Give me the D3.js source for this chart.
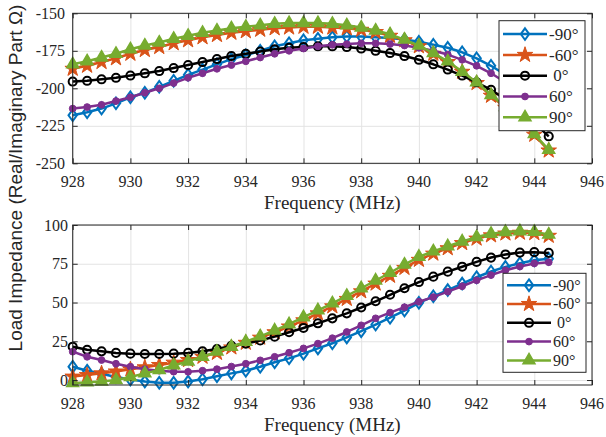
<!DOCTYPE html>
<html>
<head>
<meta charset="utf-8">
<script src="https://cdn.jsdelivr.net/npm/d3@7"></script>
<style>
  body { margin: 0; background: #fff; }
  svg { display: block; }
</style>
</head>
<body>
<div id="chart"></div>
<script>
// Frequency points (MHz), shared by both panels
const freq = [928, 928.5, 929, 929.5, 930, 930.5, 931, 931.5, 932, 932.5, 933, 933.5,
  934, 934.5, 935, 935.5, 936, 936.5, 937, 937.5, 938, 938.5, 939, 939.5,
  940, 940.5, 941, 941.5, 942, 942.5, 943, 943.5, 944, 944.5];

const angles = ['-90°', '-60°', ' 0°', '60°', '90°'];

const xTicks = [928, 930, 932, 934, 936, 938, 940, 942, 944, 946];
const upperTicks = [-250, -225, -200, -175, -150];
const lowerTicks = [0, 25, 50, 75, 100];

// Upper panel (negative part of the impedance)
const upperM90 = [-218, -216, -213.5, -210, -206, -203, -199, -195, -191, -187.5, -184, -180.5,
  -178, -175, -172, -170, -168, -167, -166, -165.5, -165.5, -166, -166.5, -167.5,
  -169, -171, -173, -176, -180, -185, -191, -197, -204, -212];
const upperM60 = [-187, -185, -182.5, -180, -177, -174.5, -172.5, -170, -168, -166, -164.5, -163,
  -162, -161, -160, -159.5, -159, -159, -159.5, -160, -161, -162.5, -165, -168,
  -172, -177, -182.5, -189, -196.5, -205, -213, -221.5, -231, -241.5];
const upper0 = [-195.5, -195, -194, -193, -191.5, -190, -188.5, -186.5, -184.5, -182.5, -180.5, -178.5,
  -177, -175.5, -174, -173, -172.5, -172, -172, -172.5, -173.5, -175, -176.5, -178.5,
  -181, -184, -187.5, -191.5, -196, -201, -207.5, -215, -223, -232];
const upper60 = [-213.5, -212.5, -211, -208.5, -206, -203, -200, -196.5, -193, -190, -187, -184.5,
  -182, -179.5, -177, -175, -173.5, -172, -171, -170.5, -170, -170, -170.5, -171.5,
  -173, -175, -177.5, -181, -185, -190, -196, -202, -210, -218];
const upper90 = [-184, -182, -179.5, -177, -174, -171.5, -169.5, -167, -165, -163, -161.5, -160,
  -159, -158, -157, -156.5, -156.5, -156.5, -157, -158, -159.5, -161.5, -164, -167.5,
  -171.5, -176.5, -182, -189, -196, -204.5, -212.5, -221, -230.5, -241];

// Lower panel (positive part of the impedance)
const lowerM90 = [8.6, 6, 4, 2, 0.3, -1, -1.8, -1.8, -1, 0.5, 2.5, 4.3,
  6, 8.6, 11.5, 14, 17, 20.4, 23.7, 27.5, 31.5, 35.8, 40.2, 44.8,
  49.8, 54, 58, 62.2, 66.3, 70, 73, 75.3, 77.2, 78.3];
const lowerM60 = [2.2, 3.2, 4.3, 5.5, 6.9, 8.2, 9.7, 11.2, 12.9, 15, 17.5, 21,
  24, 27.3, 30.8, 34.5, 38.5, 43, 47.5, 52.3, 57.2, 62.2, 67.2, 72.3,
  77.5, 81.5, 85, 88.3, 91.2, 93.3, 94.5, 95, 94.7, 93];
const lower0 = [21.5, 19.5, 18.5, 17.5, 17, 16.8, 16.8, 17, 17.5, 18.5, 20, 22,
  23.5, 25.5, 28, 30.8, 33.6, 36.6, 39.8, 43, 46.8, 50.8, 55, 59.2,
  63.2, 66.7, 69.9, 73.1, 76.2, 79, 81, 82.2, 82.5, 82];
const lower60 = [18.3, 15, 12.9, 10.5, 8.6, 7, 6, 5.4, 5.3, 6, 7, 8.7,
  10.5, 12.7, 15, 17.6, 20.4, 23.5, 27, 31, 35.3, 39.8, 43.5, 47,
  50.5, 53.5, 57, 60.5, 64.3, 67.7, 70.8, 73.2, 75.2, 76];
const lower90 = [-2, -1.5, -1, 0, 2, 4.3, 6.5, 9.5, 12, 15, 18.3, 21.5,
  24.7, 28.2, 32, 36, 40.5, 45, 49.5, 54.3, 59.2, 64.2, 69.2, 74.5,
  79.5, 83, 86.3, 89.4, 92.2, 94.3, 95.5, 96, 95.6, 93.8];

// Line colour and marker for each angle (MATLAB default order)
const styles = [
  { color: '#0072BD', shape: 'M0,-5.8L4.2,0L0,5.8L-4.2,0Z', fill: 'none', sw: 2 },
  { color: '#D95319', shape: d3.symbol(d3.symbolStar, 75)(), fill: '#D95319', sw: 1 },
  { color: '#000000', shape: d3.symbol(d3.symbolCircle, 52)(), fill: 'none', sw: 2 },
  { color: '#7E2F8E', shape: d3.symbol(d3.symbolCircle, 36)(), fill: '#7E2F8E', sw: 1 },
  { color: '#77AC30', shape: d3.symbol(d3.symbolTriangle, 62)(), fill: '#77AC30', sw: 1.5 }
];

const serif = 'Liberation Serif';
const sans = 'Liberation Sans';

const width = 606, height = 437;
const axColor = '#262626';

const svg = d3.select('#chart').append('svg')
  .attr('width', width).attr('height', height)
  .attr('viewBox', `0 0 ${width} ${height}`);

const x = d3.scaleLinear().domain([928, 946]).range([72.7, 592]);

function addMarker(sel, st) {
  sel.append('path')
    .attr('d', st.shape)
    .attr('fill', st.fill)
    .attr('stroke', st.color)
    .attr('stroke-width', st.sw)
    .attr('stroke-linejoin', 'miter');
}

function drawPanel(opts) {
  const y = d3.scaleLinear().domain(opts.yDomain).range([opts.bottom, opts.top]);
  const g = svg.append('g');
  const h = opts.bottom - opts.top;
  const w = x.range()[1] - x.range()[0];

  // grid lines
  g.append('g')
    .attr('transform', `translate(0,${opts.bottom})`)
    .call(d3.axisBottom(x).tickValues(xTicks).tickSize(-h).tickFormat(''))
    .call(a => a.select('.domain').remove())
    .call(a => a.selectAll('line').attr('stroke', '#e3e3e3'));
  g.append('g')
    .attr('transform', `translate(${x.range()[0]},0)`)
    .call(d3.axisLeft(y).tickValues(opts.yTicks).tickSize(-w).tickFormat(''))
    .call(a => a.select('.domain').remove())
    .call(a => a.selectAll('line').attr('stroke', '#e3e3e3'));

  // series: line and markers, drawn in legend order
  const line = d3.line().x((d, i) => x(freq[i])).y(d => y(d));
  opts.series.forEach((vals, k) => {
    const st = styles[k];
    g.append('path')
      .datum(vals)
      .attr('d', line)
      .attr('fill', 'none')
      .attr('stroke', st.color)
      .attr('stroke-width', 2.5)
      .attr('stroke-linejoin', 'round');
    g.append('g').selectAll('g')
      .data(vals)
      .join('g')
      .attr('transform', (d, i) => `translate(${x(freq[i])},${y(d)})`)
      .each(function() { addMarker(d3.select(this), st); });
  });

  // ticks, inside on all four sides
  const tickStyle = a => {
    a.select('.domain').remove();
    a.selectAll('line').attr('stroke', axColor);
  };
  g.append('g')
    .attr('transform', `translate(0,${opts.bottom})`)
    .call(d3.axisBottom(x).tickValues(xTicks).tickSize(-5).tickFormat(''))
    .call(tickStyle);
  g.append('g')
    .attr('transform', `translate(0,${opts.top})`)
    .call(d3.axisTop(x).tickValues(xTicks).tickSize(-5).tickFormat(''))
    .call(tickStyle);
  g.append('g')
    .attr('transform', `translate(${x.range()[0]},0)`)
    .call(d3.axisLeft(y).tickValues(opts.yTicks).tickSize(-5).tickFormat(''))
    .call(tickStyle);
  g.append('g')
    .attr('transform', `translate(${x.range()[1]},0)`)
    .call(d3.axisRight(y).tickValues(opts.yTicks).tickSize(-5).tickFormat(''))
    .call(tickStyle);

  g.append('rect')
    .attr('x', x.range()[0]).attr('y', opts.top)
    .attr('width', w).attr('height', h)
    .attr('fill', 'none').attr('stroke', axColor).attr('stroke-width', 1);

  // tick labels
  const labels = g.append('g')
    .attr('font-family', serif)
    .attr('font-size', 16)
    .attr('fill', axColor);
  labels.selectAll('text.xt')
    .data(xTicks)
    .join('text')
    .attr('class', 'xt')
    .attr('x', d => x(d))
    .attr('y', opts.bottom + 23.5)
    .attr('text-anchor', 'middle')
    .text(d => d);
  labels.selectAll('text.yt')
    .data(opts.yTicks)
    .join('text')
    .attr('class', 'yt')
    .attr('x', opts.labelRight)
    .attr('y', d => y(d) + 5.5)
    .attr('text-anchor', 'end')
    .text(d => d);

  g.append('text')
    .attr('x', (x.range()[0] + x.range()[1]) / 2)
    .attr('y', opts.bottom + 46)
    .attr('text-anchor', 'middle')
    .attr('fill', axColor)
    .attr('font-family', serif)
    .attr('font-size', 19)
    .text('Frequency (MHz)');

  // legend
  const lg = opts.legend;
  const box = g.append('g');
  box.append('rect')
    .attr('x', lg.x).attr('y', lg.y)
    .attr('width', lg.w).attr('height', lg.h)
    .attr('fill', '#fff').attr('stroke', axColor).attr('stroke-width', 1);
  const cy = lg.y + lg.h / 2;
  angles.forEach((name, k) => {
    const st = styles[k];
    const row = box.append('g')
      .attr('transform', `translate(0,${cy + (k - 2) * lg.step})`);
    row.append('line')
      .attr('x1', lg.x + 4).attr('x2', lg.x + 4 + lg.lineLen)
      .attr('stroke', st.color).attr('stroke-width', 2.5);
    const m = row.append('g')
      .attr('transform', `translate(${lg.x + 4 + lg.lineLen / 2},0)`);
    addMarker(m, st);
    row.append('text')
      .attr('x', lg.x + 6 + lg.lineLen)
      .attr('y', lg.fs * 0.34)
      .attr('fill', axColor)
      .attr('font-family', serif)
      .attr('font-size', lg.fs)
      .attr('xml:space', 'preserve')
      .style('white-space', 'pre')
      .text(name);
  });
}

drawPanel({
  yDomain: [-250, -150], yTicks: upperTicks, top: 13.3, bottom: 163.3, labelRight: 65,
  series: [upperM90, upperM60, upper0, upper60, upper90],
  legend: { x: 499, y: 20.7, w: 86, h: 110, step: 20.8, lineLen: 44, fs: 17 }
});

drawPanel({
  yDomain: [-3.2, 100], yTicks: lowerTicks, top: 225, bottom: 385, labelRight: 68,
  series: [lowerM90, lowerM60, lower0, lower60, lower90],
  legend: { x: 503, y: 273.3, w: 83, h: 99, step: 18.8, lineLen: 44, fs: 16 }
});

// shared y-axis label
svg.append('text')
  .attr('transform', 'translate(22,178) rotate(-90)')
  .attr('text-anchor', 'middle')
  .attr('fill', axColor)
  .attr('font-family', sans)
  .attr('font-size', 19)
  .text('Load Impedance (Real/Imaginary Part Ω)');
</script>
</body>
</html>
